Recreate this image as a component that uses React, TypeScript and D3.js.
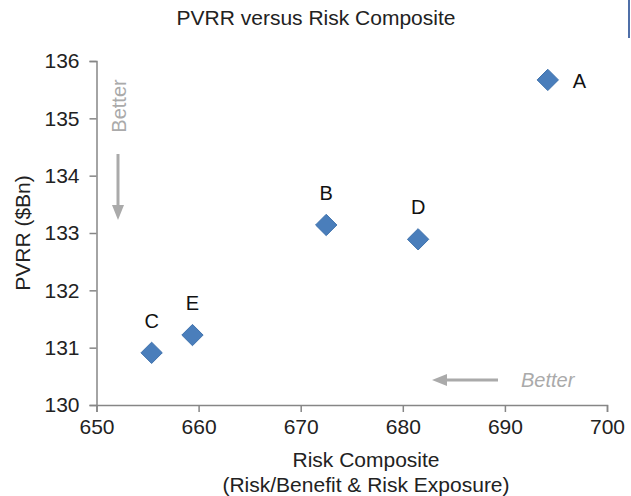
import React, { useEffect, useRef } from "react";
import * as d3 from "d3";

// scenario points
const labels = ["A", "B", "C", "D", "E"];
const riskComposite = [694.2, 672.5, 655.4, 681.5, 659.4];
const pvrr = [135.67, 133.14, 130.91, 132.89, 131.22];
const xTicks = [650, 660, 670, 680, 690, 700];
const yTicks = [130, 131, 132, 133, 134, 135, 136];

const W = 631;
const H = 496;

export default function App() {
  const ref = useRef<SVGSVGElement>(null);

  useEffect(() => {
    const svg = d3.select(ref.current);
    svg.selectAll("*").remove();

    const x = d3.scaleLinear().domain([650, 700]).range([96.5, 607]);
    const y = d3.scaleLinear().domain([130, 136]).range([405, 61]);
    const axisColor = "#868686";
    const font = "Liberation Sans, Arial, sans-serif";
    const ink = "#222";

    // title
    svg
      .append("text")
      .attr("x", 316)
      .attr("y", 25)
      .attr("text-anchor", "middle")
      .attr("font-size", 21)
      .attr("fill", ink)
      .text("PVRR versus Risk Composite");

    // odd little blue bar at top right
    svg
      .append("rect")
      .attr("x", 628)
      .attr("y", 0)
      .attr("width", 2)
      .attr("height", 38)
      .attr("fill", "#4f6fa8");

    // axes
    const xAxis = svg
      .append("g")
      .attr("transform", `translate(0,${y(130)})`)
      .call(
        d3.axisBottom(x).tickValues(xTicks).tickFormat(d3.format("d")).tickSizeOuter(0).tickSize(7).tickPadding(7)
      );
    const yAxis = svg
      .append("g")
      .attr("transform", `translate(${x(650)},0)`)
      .call(
        d3.axisLeft(y).tickValues(yTicks).tickFormat(d3.format("d")).tickSizeOuter(0).tickSize(7).tickPadding(10)
      );

    [xAxis, yAxis].forEach((g) => {
      g.selectAll("path, line").attr("stroke", axisColor).attr("stroke-width", 1.5);
      g.selectAll("text").attr("font-family", font).attr("font-size", 21).attr("fill", ink);
    });

    // axis titles
    svg
      .append("text")
      .attr("x", 366)
      .attr("y", 467)
      .attr("text-anchor", "middle")
      .attr("font-size", 21)
      .attr("fill", ink)
      .text("Risk Composite");
    svg
      .append("text")
      .attr("x", 366)
      .attr("y", 492)
      .attr("text-anchor", "middle")
      .attr("font-size", 21)
      .attr("fill", ink)
      .text("(Risk/Benefit & Risk Exposure)");
    svg
      .append("text")
      .attr("transform", `translate(30,${(y(130) + y(136)) / 2}) rotate(-90)`)
      .attr("text-anchor", "middle")
      .attr("font-size", 21)
      .attr("fill", ink)
      .text("PVRR ($Bn)");

    // "Better" hints
    const hint = "#aaaaaa";
    svg
      .append("text")
      .attr("transform", `translate(126,106) rotate(-90)`)
      .attr("text-anchor", "middle")
      .attr("font-size", 20)
      .attr("fill", hint)
      .text("Better");
    svg
      .append("line")
      .attr("x1", 118)
      .attr("x2", 118)
      .attr("y1", 154)
      .attr("y2", 206)
      .attr("stroke", hint)
      .attr("stroke-width", 3);
    svg.append("path").attr("d", "M112,205 L124,205 L118,220 Z").attr("fill", hint);

    svg
      .append("text")
      .attr("x", 521)
      .attr("y", 387)
      .attr("font-size", 20)
      .attr("font-style", "italic")
      .attr("fill", hint)
      .text("Better");
    svg
      .append("line")
      .attr("x1", 498)
      .attr("x2", 446)
      .attr("y1", 380)
      .attr("y2", 380)
      .attr("stroke", hint)
      .attr("stroke-width", 3);
    svg.append("path").attr("d", "M447,374 L447,386 L432,380 Z").attr("fill", hint);

    // points
    const pts = labels.map((l, i) => ({ l, x: riskComposite[i], y: pvrr[i] }));
    const diamond = d3.symbol().type(d3.symbolDiamond2).size(290);
    svg
      .append("g")
      .selectAll("path")
      .data(pts)
      .enter()
      .append("path")
      .attr("d", diamond)
      .attr("transform", (d) => `translate(${x(d.x)},${y(d.y)})`)
      .attr("fill", "#4a7ebb")
      .attr("stroke", "#3f72ad")
      .attr("stroke-width", 1);

    svg
      .append("g")
      .selectAll("text")
      .data(pts)
      .enter()
      .append("text")
      .attr("x", (d) => (d.l === "A" ? x(d.x) + 25 : x(d.x)))
      .attr("y", (d) => (d.l === "A" ? y(d.y) + 8 : y(d.y) - 25))
      .attr("text-anchor", (d) => (d.l === "A" ? "start" : "middle"))
      .attr("font-size", 20)
      .attr("fill", "#111")
      .text((d) => d.l);
  }, []);

  return (
    <svg
      ref={ref}
      width={W}
      height={H}
      style={{ position: "absolute", left: 0, top: 0, background: "#fff" }}
      fontFamily="Liberation Sans, Arial, sans-serif"
    />
  );
}
